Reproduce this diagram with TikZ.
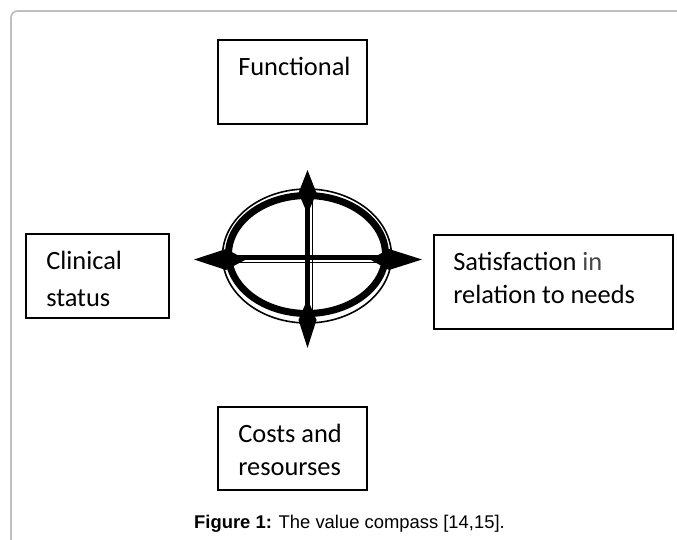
\documentclass[tikz,border=0pt]{standalone}
\usepackage{fontspec}
\setmainfont{Carlito}
\newfontfamily\capfont{Liberation Sans}
\usetikzlibrary{positioning}
\newcommand{\px}{0.75pt}

\begin{document}
\begin{tikzpicture}[x=0.75pt,y=-0.75pt,
  vcbox/.style={draw=black,line width=1.2pt,anchor=north west,inner sep=0pt},
  vctext/.style={anchor=base west,inner sep=0pt,font=\fontsize{19.8}{24}\selectfont}]
\useasboundingbox (0,0) rectangle (677,539);
% page frame
\draw[black!25,line width=1.3pt,rounded corners=5pt] (700,11) -- (11,11) -- (11,560);

% the four boxes
\node[vcbox,minimum width=149*\px,minimum height=84*\px] (vc_func) at (217,39) {};
\node[vctext] (vc_func_l1) at (238,75) {Functional};
\node[vcbox,minimum width=143*\px,minimum height=84*\px] (vc_clin) at (25,233) {};
\node[vctext] (vc_clin_l1) at (46,269) {Clinical};
\node[vctext] (vc_clin_l2) at (46,306) {status};
\node[vcbox,minimum width=239*\px,minimum height=94*\px] (vc_sat) at (433,234) {};
\node[vctext] (vc_sat_l1) at (453,270) {Satisfaction \textcolor{black!72}{in}};
\node[vctext] (vc_sat_l2) at (453,303) {relation to needs};
\node[vcbox,minimum width=149*\px,minimum height=83*\px] (vc_cost) at (217,406) {};
\node[vctext] (vc_cost_l1) at (238,442) {Costs and};
\node[vctext] (vc_cost_l2) at (238,475) {resourses};

% compass
\draw[line width=1.6*\px] (307,256) ellipse [x radius=84.5, y radius=67];
\draw[line width=7*\px] (307,254.5) ellipse [x radius=78.5, y radius=59];
\draw[white,line width=8.5*\px] (309,188) -- (309,324);
\draw[white,line width=8.5*\px] (224,259.2) -- (391,259.2);
\draw[line width=5.5*\px] (307.5,188) -- (307.5,324);
\draw[line width=1.6*\px] (312.4,188) -- (312.4,324);
\draw[line width=5.5*\px] (224,257.5) -- (391,257.5);
\draw[line width=1.6*\px] (224,262.6) -- (391,262.6);
\fill (307.5,170) -- (316.5,193) -- (307.5,214) -- (298.5,193) -- cycle;
\fill (307.5,348) -- (316.5,320) -- (307.5,299) -- (298.5,320) -- cycle;
\fill (194,259.5) -- (226,249) -- (246,259.5) -- (226,270) -- cycle;
\fill (422,259.5) -- (389,249) -- (370,259.5) -- (389,270) -- cycle;

% caption
\node[anchor=base,inner sep=0pt,font=\capfont\fontsize{13.8}{16}\selectfont] (vc_cap) at (349.5,528) {\textbf{Figure 1:} The value compass [14,15].};
\end{tikzpicture}
\end{document}
